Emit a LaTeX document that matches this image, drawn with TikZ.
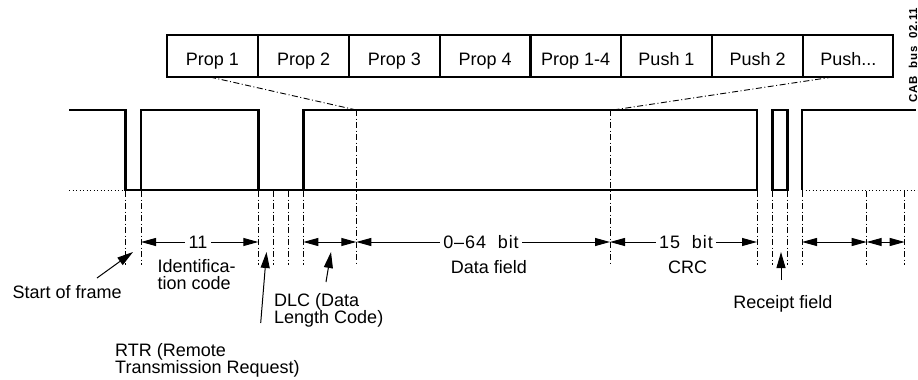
\documentclass[tikz,border=0pt]{standalone}
\usepackage{fontspec}
\setmainfont{Liberation Sans}
\usetikzlibrary{arrows.meta}
\setlength{\lineskiplimit}{-6pt}
\newcommand{\labelsize}{\fontsize{18}{17}\selectfont}
\newcommand{\widelabel}{\fontsize{18}{17}\selectfont\addfontfeature{LetterSpace=5}}
\begin{document}
\begin{tikzpicture}[x=1pt, y=-1pt,
  txt/.style={font=\labelsize, inner sep=0pt},
  dimtxt/.style={font=\widelabel, inner xsep=3.5pt, inner ysep=0pt},
  propbox/.style={draw, line width=2.1pt, minimum height=42pt, minimum width=91pt, inner sep=0pt},
  sig/.style={line width=2.6pt, line join=miter},
  guide/.style={line width=0.9pt, dash pattern=on 6pt off 2.5pt on 1pt off 2.5pt},
  dots/.style={line width=0.9pt, dash pattern=on 1pt off 2.5pt},
  dimarrow/.style={line width=1pt, -{Triangle[length=15pt,width=8pt]}},
  dimboth/.style={line width=1pt, {Triangle[length=15pt,width=8pt]}-{Triangle[length=15pt,width=8pt]}},
  ptr/.style={line width=1pt, -{Triangle[length=16pt,width=9pt]}}
]
\useasboundingbox (0,0) rectangle (918,380);

% row of process-image boxes
\node[propbox, minimum width=91.6pt] (pb1) at (212.5,56) {};
\node[propbox, minimum width=90.7pt] (pb2) at (303.65,56) {};
\node[propbox] (pb3) at (394.5,56) {};
\node[propbox, minimum width=90.5pt] (pb4) at (485.25,56) {};
\node[propbox, minimum width=90.5pt] (pb5) at (575.75,56) {};
\node[propbox] (pb6) at (666.5,56) {};
\node[propbox, minimum width=91.3pt] (pb7) at (757.65,56) {};
\node[propbox, minimum width=90pt] (pb8) at (848.3,56) {};
\node[txt, anchor=base] (pt1) at (212.5,65) {Prop 1};
\node[txt, anchor=base] (pt2) at (303.65,65) {Prop 2};
\node[txt, anchor=base] (pt3) at (394.5,65) {Prop 3};
\node[txt, anchor=base] (pt4) at (485.25,65) {Prop 4};
\node[txt, anchor=base] (pt5) at (575.75,65) {Prop 1-4};
\node[txt, anchor=base] (pt6) at (666.5,65) {Push 1};
\node[txt, anchor=base] (pt7) at (757.65,65) {Push 2};
\node[txt, anchor=base] (pt8) at (848.3,65) {Push...};

% drawing reference
\node[rotate=90, inner sep=0pt, font=\fontsize{11.5}{11.5}\selectfont\bfseries\addfontfeature{LetterSpace=6}] (cab) at (913,55) {CAB\ \ bus\ \ 02.11};

% bus signal
\draw[sig] (69,110) -- (125.5,110) -- (125.5,190) -- (757,190) -- (757,110) -- (303.3,110) -- (303.3,190);
\draw[sig] (141,190) -- (141,110) -- (258.3,110) -- (258.3,190);
\draw[sig] (772.3,190) rectangle (787.5,110);
\draw[sig] (802,190) -- (802,110) -- (916,110);
\draw[dots] (69,190) -- (125.5,190);
\draw[dots] (802,190) -- (918,190);

% field boundaries
\foreach \x in {125.5,141,258.3,273.3,288.3,303.3,757,772.3,787.5,802,866.7,904.7}
  \draw[guide] (\x,191) -- (\x,265);
\coordinate (dTop) at (356.3,110);
\coordinate (cTop) at (610,110);
\draw[guide] (dTop) -- (356.3,265);
\draw[guide] (cTop) -- (610,265);

% data field fan-out to the boxes
\coordinate (fanL) at (210,77);
\coordinate (fanR) at (833,77);
\draw[guide] (fanL) -- (dTop);
\draw[guide] (fanR) -- (613,110);

% dimension lines
\coordinate (e141) at (141,242);
\coordinate (e258) at (258.3,242);
\coordinate (e303) at (303.3,242);
\coordinate (e356) at (356.3,242);
\coordinate (e610) at (610,242);
\coordinate (e757) at (757,242);
\coordinate (e802) at (802,242);
\coordinate (e867) at (866.7,242);
\coordinate (e905) at (904.7,242);

\node[txt, inner xsep=3.5pt] (n11) at (198,242) {11};
\draw[dimarrow] (n11) -- (e141);
\draw[dimarrow] (n11) -- (e258);
\draw[dimboth] (e303) -- (e356);
\node[dimtxt] (n64) at (481,242) {0--64\ \ bit};
\draw[dimarrow] (n64) -- (e356);
\draw[dimarrow] (n64) -- (e610);
\node[dimtxt] (n15) at (686,242) {15\ \ bit};
\draw[dimarrow] (n15) -- (e610);
\draw[dimarrow] (n15) -- (e757);
\draw[dimboth] (e802) -- (e867);
\draw[dimboth] (e867) -- (e905);

% field names
\node[txt, anchor=north west, align=left] (ident) at (157.5,259.7) {Identifica-\\tion code};
\node[txt, anchor=base] (dfield) at (489,273) {Data field};
\node[txt, anchor=base] (crc) at (687.5,273) {CRC};

% pointer labels
\node[txt, anchor=base west] (sof) at (12.5,298.3) {Start of frame};
\coordinate (sofTail) at (97,278);
\coordinate (sofTip) at (133,252);
\draw[ptr] (sofTail) -- (sofTip);

\node[txt, anchor=north west, align=left] (rtr) at (115,343) {RTR (Remote\\Transmission Request)};
\coordinate (rtrTail) at (260.7,323);
\coordinate (rtrTip) at (266.5,252);
\draw[ptr] (rtrTail) -- (rtrTip);

\node[txt, anchor=north west, align=left] (dlc) at (274,293) {DLC (Data\\Length Code)};
\coordinate (dlcTail) at (326,282);
\coordinate (dlcTip) at (331,252);
\draw[ptr] (dlcTail) -- (dlcTip);

\node[txt, anchor=base] (rcpt) at (783,308) {Receipt field};
\coordinate (rcptTail) at (781,280);
\coordinate (rcptTip) at (781,252);
\draw[ptr] (rcptTail) -- (rcptTip);
\end{tikzpicture}
\end{document}
